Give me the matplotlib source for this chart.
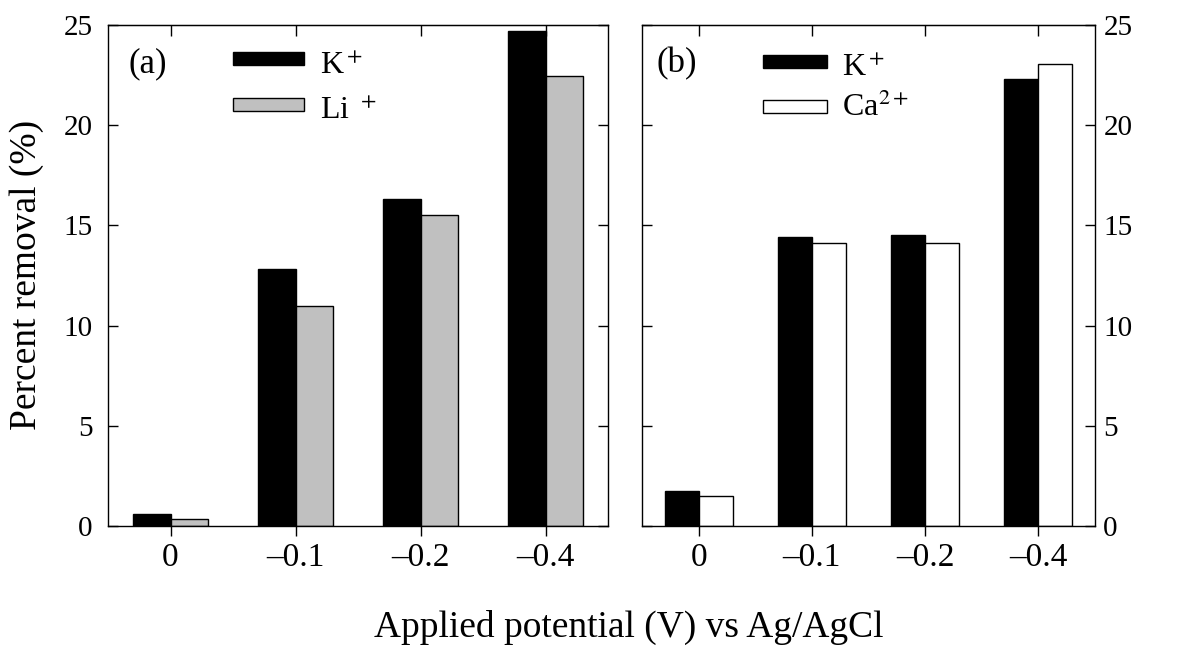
import matplotlib
matplotlib.use("Agg")
import matplotlib.pyplot as plt
import numpy as np
from matplotlib.patches import Rectangle

plt.rcParams['font.family'] = ['Liberation Serif', 'DejaVu Serif']
plt.rcParams['mathtext.fontset'] = 'stix'

categories = ["0", "\u20130.1", "\u20130.2", "\u20130.4"]
k_a = [0.6, 12.8, 16.3, 24.7]
li_a = [0.35, 11.0, 15.5, 22.45]
k_b = [1.75, 14.4, 14.5, 22.3]
ca_b = [1.5, 14.1, 14.1, 23.05]

fig = plt.figure(figsize=(11.94, 6.47), dpi=100)
axA = fig.add_axes([108/1194, 1-526/647, 500/1194, 501/647])
axB = fig.add_axes([642/1194, 1-526/647, 453/1194, 501/647])

x = np.arange(len(categories))
w = 0.3
XTICK = 24
YTICK = 21

def style(ax, right_labels=False):
    ax.set_xlim(-0.5, 3.5)
    ax.set_ylim(0, 25)
    ax.set_xticks(x)
    ax.set_xticklabels(categories, fontsize=XTICK)
    ax.set_yticks([0, 5, 10, 15, 20, 25])
    ax.tick_params(axis='x', direction='out', length=7, width=1, pad=5)
    ax.tick_params(axis='y', direction='in', length=7, width=1, left=True, right=True,
                   labelleft=not right_labels, labelright=right_labels, labelsize=YTICK,
                   pad=(6 if right_labels else 11))
    for s in ax.spines.values():
        s.set_linewidth(1.0)
    sec = ax.secondary_xaxis('top')
    sec.set_xticks(x)
    sec.tick_params(direction='in', length=8, width=1, labeltop=False)

def legend(ax, entries, x0, wd, rows, texts, tx, baselines):
    for (fc, y0), lab, yb in zip(zip(entries, rows), texts, baselines):
        ax.add_patch(Rectangle((x0, y0), wd, 0.026, transform=ax.transAxes,
                               facecolor=fc, edgecolor='black', linewidth=1, clip_on=False))
        ax.text(tx, yb, lab, transform=ax.transAxes, fontsize=23, va='baseline', ha='left')

axA.bar(x - w/2, k_a, w, color='black', edgecolor='black', linewidth=1)
axA.bar(x + w/2, li_a, w, color='#c0c0c0', edgecolor='black', linewidth=1)
style(axA)
axA.text(0.04, 0.906, "(a)", transform=axA.transAxes, fontsize=25, va='baseline')
legend(axA, ['black', '#c0c0c0'], 0.25, 0.142, [0.920, 0.828],
       ["K$^+$", "Li $^+$"], 0.424, [0.902, 0.812])

axB.bar(x - w/2, k_b, w, color='black', edgecolor='black', linewidth=1)
axB.bar(x + w/2, ca_b, w, color='white', edgecolor='black', linewidth=1)
style(axB, right_labels=True)
axB.text(0.031, 0.906, "(b)", transform=axB.transAxes, fontsize=25, va='baseline')
legend(axB, ['black', 'white'], 0.267, 0.141, [0.914, 0.824],
       ["K$^+$", "Ca$^{2+}$"], 0.441, [0.898, 0.818])

fig.text(27/1194, 1-275/647, "Percent removal (%)", fontsize=27, rotation=90,
         ha='center', va='center')
fig.text(629/1194, 1-637/647, "Applied potential (V) vs Ag/AgCl", fontsize=27,
         ha='center', va='baseline')

fig.savefig("out.png", dpi=100)
